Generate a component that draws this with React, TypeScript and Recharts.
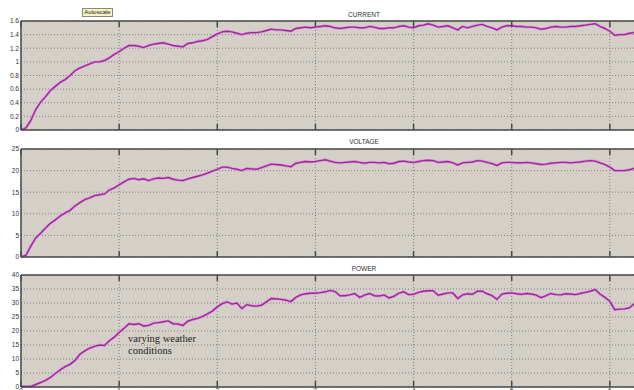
import React from 'react';
import { LineChart, Line, XAxis, YAxis, CartesianGrid } from 'recharts';

// Simulation time (s), sampled every 0.05 s
const TIME = [
  0, 0.05, 0.1, 0.15, 0.2, 0.25, 0.3, 0.35, 0.4, 0.45,
  0.5, 0.55, 0.6, 0.65, 0.7, 0.75, 0.8, 0.85, 0.9, 0.95,
  1, 1.05, 1.1, 1.15, 1.2, 1.25, 1.3, 1.35, 1.4, 1.45,
  1.5, 1.55, 1.6, 1.65, 1.7, 1.75, 1.8, 1.85, 1.9, 1.95,
  2, 2.05, 2.1, 2.15, 2.2, 2.25, 2.3, 2.35, 2.4, 2.45,
  2.5, 2.55, 2.6, 2.65, 2.7, 2.75, 2.8, 2.85, 2.9, 2.95,
  3, 3.05, 3.1, 3.15, 3.2, 3.25, 3.3, 3.35, 3.4, 3.45,
  3.5, 3.55, 3.6, 3.65, 3.7, 3.75, 3.8, 3.85, 3.9, 3.95,
  4, 4.05, 4.1, 4.15, 4.2, 4.25, 4.3, 4.35, 4.4, 4.45,
  4.5, 4.55, 4.6, 4.65, 4.7, 4.75, 4.8, 4.85, 4.9, 4.95,
  5, 5.05, 5.1, 5.15, 5.2, 5.25, 5.3, 5.35, 5.4, 5.45,
  5.5, 5.55, 5.6, 5.65, 5.7, 5.75, 5.8, 5.85, 5.9, 5.95,
  6, 6.05, 6.1, 6.15, 6.2, 6.25, 6.3,
];

const CURRENT = [
  0, 0.03, 0.14, 0.3, 0.41, 0.49, 0.58, 0.64, 0.7, 0.74,
  0.8, 0.87, 0.91, 0.94, 0.97, 1, 1, 1.02, 1.06, 1.11,
  1.15, 1.2, 1.24, 1.24, 1.23, 1.21, 1.24, 1.26, 1.27, 1.28,
  1.26, 1.24, 1.23, 1.22, 1.27, 1.28, 1.3, 1.31, 1.33, 1.37,
  1.41, 1.44, 1.45, 1.44, 1.42, 1.4, 1.42, 1.43, 1.43, 1.44,
  1.46, 1.48, 1.47, 1.47, 1.46, 1.45, 1.49, 1.5, 1.51, 1.5,
  1.51, 1.52, 1.53, 1.52, 1.5, 1.49, 1.5, 1.51, 1.51, 1.5,
  1.5, 1.52, 1.51, 1.49, 1.49, 1.5, 1.5, 1.52, 1.53, 1.51,
  1.5, 1.53, 1.54, 1.56, 1.54, 1.51, 1.52, 1.53, 1.5, 1.47,
  1.52, 1.5, 1.52, 1.54, 1.55, 1.52, 1.5, 1.47, 1.51, 1.53,
  1.53, 1.52, 1.52, 1.51, 1.51, 1.5, 1.48, 1.49, 1.51, 1.52,
  1.51, 1.51, 1.52, 1.52, 1.53, 1.54, 1.55, 1.56, 1.52, 1.49,
  1.45, 1.39, 1.4, 1.4, 1.42, 1.43, 1.43,
];

const VOLTAGE = [
  0, 0.4, 2.5, 4.4, 5.5, 6.7, 7.8, 8.6, 9.5, 10.2,
  10.8, 11.8, 12.6, 13.3, 13.7, 14.2, 14.4, 14.6, 15.5, 16,
  16.7, 17.4, 18, 18.2, 17.9, 18.1, 17.7, 18.1, 18.3, 18.2,
  18.4, 18, 17.8, 17.7, 18.1, 18.4, 18.7, 19, 19.4, 19.9,
  20.3, 20.8, 20.8, 20.5, 20.3, 20, 20.5, 20.4, 20.3, 20.7,
  21.1, 21.5, 21.4, 21.3, 21.1, 20.9, 21.7, 21.9, 22.1, 22,
  22.1, 22.3, 22.5, 22.2, 21.9, 21.8, 21.9, 22, 22.1, 21.9,
  21.7, 21.9, 21.9, 21.8, 21.9, 21.6, 21.7, 22.1, 22.2, 22,
  21.9, 22.1, 22.3, 22.4, 22.3, 21.9, 22, 22.1, 21.8, 21.3,
  21.8, 21.9, 22, 22.3, 22.2, 21.9, 21.6, 21.2, 21.8, 21.9,
  21.9, 21.8, 21.8, 21.9, 21.8, 21.6, 21.4, 21.5, 21.7, 21.8,
  21.9, 21.9, 21.8, 21.9, 22, 22.2, 22.3, 22.2, 21.8, 21.4,
  20.8, 20, 20, 20, 20.2, 20.5, 20.6,
];

const POWER = [
  0.2, 0.2, 0.2, 0.9, 1.6, 2.4, 3.4, 4.8, 6.1, 7.3,
  8.1, 9.5, 11.7, 12.9, 13.9, 14.5, 15, 14.8, 16.5, 17.8,
  19.5, 21, 22.6, 22.3, 22.6, 21.8, 22, 22.8, 23, 23.3,
  23.6, 22.6, 22.5, 22, 23.5, 24.1, 24.5, 25.2, 26.1, 27.1,
  28.6, 29.8, 30.4, 29.6, 30, 28, 29.4, 29, 28.9, 29.2,
  30.4, 31.6, 31.5, 31.3, 31, 30.5, 32, 32.9, 33.3, 33.5,
  33.5, 33.7, 34, 34.5, 34.1, 32.6, 32.6, 32.9, 33.4, 32,
  32.8, 33.4, 32.6, 32.5, 32.9, 31.8, 32.4, 33.5, 34, 33,
  33.1, 33.8, 34.2, 34.4, 34.4, 32.8, 33.2, 33.6, 33.6, 31.6,
  32.9, 33.3, 33.1, 34.2, 34.2, 33.3, 32.6, 31.3, 33.2, 33.5,
  33.6, 33.3, 33.1, 33.4, 33.2, 32.8, 31.9, 32.6, 33.4, 33,
  32.9, 33.3, 33.2, 33, 33.4, 33.8, 34.2, 34.8, 33.2, 32,
  30.6, 27.6, 27.8, 27.9, 28.3, 29.8, 30.2,
];

const TIME_TICKS = [0, 1, 2, 3, 4, 5, 6, 7];
const CURRENT_TICKS = [0, 0.2, 0.4, 0.6, 0.8, 1, 1.2, 1.4, 1.6];
const VOLTAGE_TICKS = [0, 5, 10, 15, 20, 25];
const POWER_TICKS = [0, 5, 10, 15, 20, 25, 30, 35, 40];

const PANEL_BG = '#d4d0c8';
const FRAME = '#4a4a4a';
const GRID = '#7f7f7f';
const TRACE_HALO = '#d699d4';
const TRACE = '#a3259e';
const UI_FONT = '"Liberation Sans", Arial, sans-serif';

const CHART_W = 720;

function TopTick(props: any) {
  const { x, y } = props;
  return <line x1={x} x2={x} y1={y} y2={y + 6} stroke={FRAME} strokeWidth={1.5} />;
}

function makeBottomTick(withLabels: boolean) {
  return function BottomTick(props: any) {
    const { x, y, payload } = props;
    return (
      <g>
        <line x1={x} x2={x} y1={y} y2={y - 6} stroke={FRAME} strokeWidth={1.5} />
        {withLabels ? (
          <text x={x} y={y + 6} textAnchor="middle" fontSize={6.5} fill="#333" fontFamily={UI_FONT}>
            {payload.value}
          </text>
        ) : null}
      </g>
    );
  };
}

type PanelProps = {
  top: number;
  height: number;
  bottomAxisHeight: number;
  bottomMargin: number;
  values: number[];
  yTicks: number[];
  yMax: number;
  timeLabels: boolean;
};

function Panel({ top, height, bottomAxisHeight, bottomMargin, values, yTicks, yMax, timeLabels }: PanelProps) {
  const rows = TIME.map((t, i) => ({ t, v: values[i] }));
  return (
    <div style={{ position: 'absolute', left: 0, top, width: CHART_W, height }}>
      <LineChart
        width={CHART_W}
        height={height}
        data={rows}
        margin={{ top: 20, right: 12, bottom: bottomMargin, left: 0 }}
      >
        <CartesianGrid
          fill={PANEL_BG}
          fillOpacity={1}
          stroke={GRID}
          strokeDasharray="1 2"
          strokeWidth={1}
        />
        <XAxis
          dataKey="t"
          type="number"
          domain={[0, 7]}
          ticks={TIME_TICKS}
          interval={0}
          allowDataOverflow
          height={bottomAxisHeight}
          axisLine={{ stroke: FRAME, strokeWidth: 1.5 }}
          tickLine={false}
          tickSize={0}
          tickMargin={0}
          tick={makeBottomTick(timeLabels)}
        />
        <XAxis
          xAxisId="t"
          dataKey="t"
          type="number"
          orientation="top"
          domain={[0, 7]}
          ticks={TIME_TICKS}
          interval={0}
          allowDataOverflow
          height={1}
          axisLine={{ stroke: FRAME, strokeWidth: 1.5 }}
          tickLine={false}
          tickSize={0}
          tickMargin={0}
          tick={TopTick}
        />
        <YAxis
          type="number"
          domain={[0, yMax]}
          ticks={yTicks}
          interval={0}
          width={21}
          axisLine={{ stroke: FRAME, strokeWidth: 1.5 }}
          tickLine={false}
          tickSize={0}
          tickMargin={2}
          tick={{ fontSize: 6.5, fill: '#333', fontFamily: UI_FONT }}
        />
        <Line
          type="linear"
          dataKey="v"
          stroke={TRACE_HALO}
          strokeWidth={2.8}
          dot={false}
          activeDot={false}
          isAnimationActive={false}
        />
        <Line
          type="linear"
          dataKey="v"
          stroke={TRACE}
          strokeWidth={1.4}
          dot={false}
          activeDot={false}
          isAnimationActive={false}
        />
      </LineChart>
    </div>
  );
}

function Title({ text, centerY }: { text: string; centerY: number }) {
  return (
    <div
      style={{
        position: 'absolute',
        left: 314,
        width: 100,
        top: centerY - 5,
        height: 10,
        lineHeight: '10px',
        textAlign: 'center',
        fontFamily: UI_FONT,
        fontSize: 6.5,
        color: '#333',
      }}
    >
      {text}
    </div>
  );
}

export default function App() {
  return (
    <div
      style={{
        position: 'absolute',
        left: 0,
        top: 0,
        width: 634,
        height: 390,
        overflow: 'hidden',
        background: '#ffffff',
      }}
    >
      <Panel top={0} height={140} bottomAxisHeight={1} bottomMargin={9} values={CURRENT} yTicks={CURRENT_TICKS} yMax={1.6} timeLabels={false} />
      <Panel top={128} height={140} bottomAxisHeight={1} bottomMargin={10} values={VOLTAGE} yTicks={VOLTAGE_TICKS} yMax={25} timeLabels={false} />
      <Panel top={254} height={160} bottomAxisHeight={20} bottomMargin={7} values={POWER} yTicks={POWER_TICKS} yMax={40} timeLabels={true} />

      <Title text="CURRENT" centerY={15} />
      <Title text="VOLTAGE" centerY={141.5} />
      <Title text="POWER" centerY={268.5} />

      <div
        style={{
          position: 'absolute',
          left: 82,
          top: 8,
          width: 31,
          height: 9,
          boxSizing: 'border-box',
          border: '1px solid #8a8a70',
          background: '#f7f3c4',
          fontFamily: UI_FONT,
          fontSize: 6,
          lineHeight: '7px',
          textAlign: 'center',
          color: '#222',
        }}
      >
        Autoscale
      </div>

      <div
        style={{
          position: 'absolute',
          left: 128,
          top: 333,
          fontFamily: '"Liberation Serif", "Times New Roman", serif',
          fontSize: 10.5,
          lineHeight: '12px',
          color: '#222',
        }}
      >
        varying weather
        <br />
        conditions
      </div>
    </div>
  );
}
